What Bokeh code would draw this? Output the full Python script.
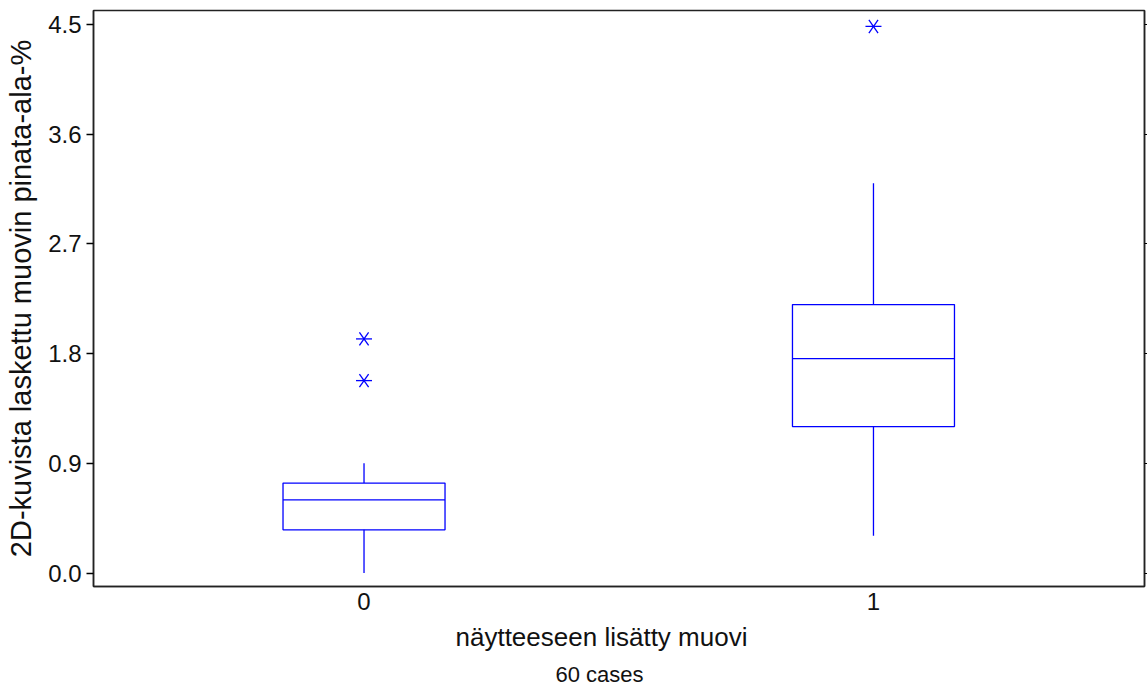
import math
from bokeh.plotting import figure
from bokeh.models import ColumnDataSource, LinearAxis, Title, FixedTicker, CustomJSTickFormatter, Range1d
from bokeh.embed import file_html
from bokeh.resources import INLINE

# ---- data ----
groups = ["0", "1"]
group_x = [0, 1]
q1 = [0.355, 1.202]
median = [0.600, 1.760]
q3 = [0.738, 2.203]
whisker_low = [0.0, 0.306]
whisker_high = [0.902, 3.198]
outlier_group = [0, 0, 1]
outlier_value = [1.921, 1.579, 4.484]
y_ticks = [0.0, 0.9, 1.8, 2.7, 3.6, 4.5]

x_title = "näytteeseen lisätty muovi"
y_title = "2D-kuvista laskettu muovin pinata-ala-%"
footnote = "60 cases"

FONT = "Liberation Sans"
BLUE = "#0000ff"
BOX_HALF = 0.159

box_src = ColumnDataSource(dict(
    x=group_x,
    left=[g - BOX_HALF for g in group_x],
    right=[g + BOX_HALF for g in group_x],
    q1=q1, q3=q3, med=median, lo=whisker_low, hi=whisker_high,
))
out_src = ColumnDataSource(dict(x=outlier_group, y=outlier_value))

p = figure(width=1147, height=691, output_backend="svg", toolbar_location=None,
           x_range=Range1d(-0.531, 1.532), y_range=Range1d(-0.11, 4.615),
           min_border_left=93, min_border_right=3, min_border_top=10, min_border_bottom=105)

p.background_fill_color = "white"
p.border_fill_color = "white"
p.outline_line_color = "#222222"
p.outline_line_width = 1.5
p.xgrid.visible = False
p.ygrid.visible = False

# boxes
p.quad(left="left", right="right", bottom="q1", top="q3", source=box_src,
       fill_color=None, line_color=BLUE, line_width=1.3)
p.segment(x0="left", x1="right", y0="med", y1="med", source=box_src,
          line_color=BLUE, line_width=1.3)
p.segment(x0="x", x1="x", y0="q3", y1="hi", source=box_src, line_color=BLUE, line_width=1.3)
p.segment(x0="x", x1="x", y0="lo", y1="q1", source=box_src, line_color=BLUE, line_width=1.3)

# outliers: 6-spoke asterisk built from three dashes
for ang in (0.0, math.radians(55), math.radians(125)):
    p.scatter(x="x", y="y", source=out_src, marker="dash", size=16, angle=ang,
              line_color=BLUE, line_width=1.3)

# y axis (left)
ya = p.yaxis[0]
ya.ticker = FixedTicker(ticks=y_ticks)
ya.formatter = CustomJSTickFormatter(code="return tick.toFixed(1);")
ya.major_label_text_font = FONT
ya.major_label_text_font_size = "24px"
ya.major_label_text_color = "#111111"
ya.major_tick_out = 7
ya.major_tick_in = 0
ya.minor_tick_line_color = None
ya.major_label_standoff = 5
ya.axis_line_color = "#222222"
ya.axis_line_width = 1.5
ya.major_tick_line_width = 1.3
ya.axis_label = y_title
ya.axis_label_text_font = FONT
ya.axis_label_text_font_size = "29px"
ya.axis_label_text_font_style = "normal"
ya.axis_label_text_color = "#111111"
ya.axis_label_standoff = 8

# right axis: ticks only
ra = LinearAxis(ticker=FixedTicker(ticks=y_ticks), major_tick_out=3, major_tick_in=0,
                minor_tick_line_color=None, major_label_text_font_size="0px",
                major_label_standoff=0, axis_line_color="#222222", axis_line_width=1.5)
ra.formatter = CustomJSTickFormatter(code="return '';")
p.add_layout(ra, "right")

# x axis
xa = p.xaxis[0]
xa.ticker = FixedTicker(ticks=group_x)
xa.major_label_overrides = {g: s for g, s in zip(group_x, groups)}
xa.major_label_text_font = FONT
xa.major_label_text_font_size = "24px"
xa.major_label_text_color = "#111111"
xa.major_tick_line_color = None
xa.major_tick_out = 0
xa.minor_tick_line_color = None
xa.major_label_standoff = 6
xa.axis_line_color = "#222222"
xa.axis_line_width = 1.5

# bottom titles
t1 = Title(text=x_title, text_font=FONT, text_font_size="26px", text_font_style="normal",
           text_color="#111111", align="left", offset=362, standoff=14)
t2 = Title(text=footnote, text_font=FONT, text_font_size="22px", text_font_style="normal",
           text_color="#111111", align="left", offset=462, standoff=3)
p.add_layout(t1, "below")
p.add_layout(t2, "below")

open("out.html", "w").write(file_html(p, INLINE))
